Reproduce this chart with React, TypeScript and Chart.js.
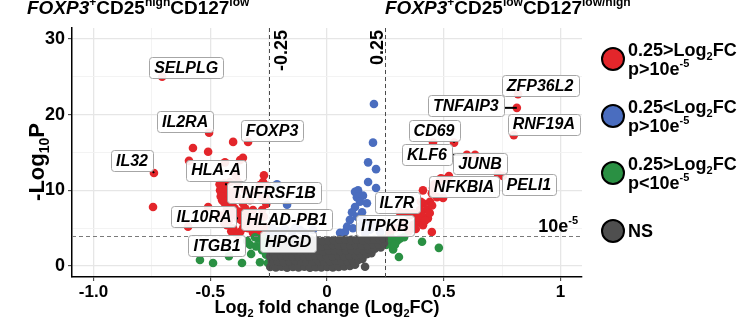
import { useEffect, useRef } from 'react';
import { Chart, registerables } from 'chart.js';

Chart.register(...registerables);

const FONT = '"Liberation Sans", Arial, Helvetica, sans-serif';

// Cut-offs used for colouring the genes
const fcCutoff = 0.25;
const pCutoff = 4; // -log10 of the p-value threshold

// Axis ticks
const xTickLabels: Record<string, string> = { '-1': '-1.0', '-0.5': '-0.5', '0': '0', '0.5': '0.5', '1': '1' };
const yTickLabels = [0, 10, 20, 30];

// Labelled genes: log2 fold change and -log10 P
const labelGenes = ['SELPLG', 'IL2RA', 'FOXP3', 'IL32', 'HLA-A', 'TNFRSF1B', 'IL10RA', 'HLAD-PB1', 'ITGB1', 'HPGD',
  'ZFP36L2', 'TNFAIP3', 'RNF19A', 'CD69', 'KLF6', 'JUNB', 'PELI1', 'NFKBIA', 'IL7R', 'ITPKB'];
const labelLog2FC = [-0.706, -0.505, -0.338, -0.741, -0.372, -0.437, -0.381, -0.36, -0.381, -0.265,
  0.818, 0.813, 0.8, 0.544, 0.599, 0.732, 0.753, 0.497, 0.402, 0.355];
const labelLogP = [25.0, 17.6, 16.4, 12.3, 14.0, 10.8, 6.3, 5.0, 4.1, 4.5,
  22.7, 20.9, 17.3, 16.3, 14.7, 12.2, 11.9, 9.0, 8.5, 6.7];

// Other genes passing both cut-offs
const redPoints: [number, number][] = [
  [-0.402, 16.4], [-0.745, 7.8], [-0.574, 15.6], [-0.509, 15.1], [-0.591, 13.9], [-0.437, 13.7], [-0.36, 14.3],
  [-0.449, 10.4], [-0.445, 9.6], [-0.274, 11.1], [-0.257, 10.6], [-0.287, 10.7], [-0.415, 11.1], [-0.381, 11.1],
  [-0.458, 10.0], [-0.437, 9.5], [-0.449, 8.7], [-0.415, 9.0], [-0.385, 9.1], [-0.36, 8.3], [-0.428, 7.4],
  [-0.402, 7.8], [-0.509, 7.8], [-0.595, 5.2], [-0.428, 5.4], [-0.402, 5.0], [-0.372, 4.5], [-0.338, 5.0],
  [-0.317, 4.4], [-0.274, 4.1], [-0.317, 7.4], [-0.3, 5.8], [-0.287, 4.8], [-0.257, 5.2], [-0.278, 7.4],
  [-0.3, 6.3], [-0.342, 6.7], [-0.33, 8.7], [-0.308, 9.8], [-0.265, 9.1], [-0.407, 6.7], [-0.458, 6.7],
  [-0.394, 10.0], [-0.351, 10.0],
  [-0.44, 10.9], [-0.43, 10.2], [-0.42, 9.6], [-0.455, 9.2], [-0.44, 8.4], [-0.43, 8.0], [-0.41, 8.4],
  [-0.395, 7.6], [-0.37, 7.2], [-0.35, 7.6], [-0.33, 6.1], [-0.315, 5.5], [-0.35, 5.6], [-0.365, 6.0],
  [-0.42, 6.0], [-0.44, 5.7], [-0.39, 4.4], [-0.41, 4.6], [-0.295, 4.4], [-0.27, 6.5], [-0.26, 8.2],
  [-0.28, 9.0], [-0.46, 10.8], [-0.39, 12.0], [-0.27, 12.0],
  [0.454, 16.3], [0.634, 14.7], [0.522, 11.9], [0.488, 11.6], [0.475, 11.0], [0.454, 10.3], [0.441, 8.5],
  [0.471, 9.1], [0.411, 8.3], [0.428, 7.5], [0.398, 7.4], [0.368, 7.0], [0.342, 7.0], [0.407, 6.7],
  [0.432, 6.3], [0.385, 5.8], [0.411, 5.4], [0.368, 5.4], [0.449, 4.5], [0.312, 7.1], [0.411, 10.0],
  [0.449, 9.6], [0.291, 5.0], [0.27, 4.4], [0.321, 5.8],
  [0.39, 6.4], [0.42, 6.0], [0.44, 7.0], [0.38, 4.9], [0.35, 4.6], [0.33, 5.3], [0.45, 8.0], [0.46, 10.8],
  [0.5, 11.5],
];

// Small fold change, significant P
const bluePoints: [number, number][] = [
  [0.201, 21.4], [0.197, 16.3], [0.176, 13.7], [0.21, 12.8], [0.176, 11.1], [0.21, 10.3], [0.133, 10.0],
  [0.12, 9.8], [0.128, 9.1], [0.154, 9.3], [0.141, 8.5], [0.171, 8.3], [0.12, 7.8], [0.107, 7.1], [0.15, 7.1],
  [0.128, 6.5], [0.098, 6.1], [0.154, 6.1], [0.086, 5.2], [0.111, 5.0], [0.141, 5.2], [0.184, 5.7], [0.077, 4.5],
  [0.184, 4.8], [0.056, 4.4], [0.163, 4.4], [0.214, 5.4], [0.227, 4.5],
  [-0.214, 10.8], [-0.171, 8.1], [-0.06, 4.8], [-0.235, 5.0], [-0.21, 4.6], [-0.18, 4.9], [-0.15, 4.5],
  [-0.116, 4.8], [-0.094, 4.4], [-0.244, 4.2], [-0.137, 5.0], [-0.193, 4.4],
];

// Large fold change, P above threshold
const greenPoints: [number, number][] = [
  [-0.544, 0.8], [-0.488, 0.4], [-0.42, 1.3], [-0.364, 0.4], [-0.33, 2.8], [-0.308, 3.8], [-0.295, 3.6],
  [-0.278, 2.1], [-0.287, 0.5], [-0.325, 1.6], [-0.265, 3.8], [-0.274, 2.9], [-0.253, 3.3], [-0.304, 2.6],
  [-0.261, 1.5], [-0.253, 0.4], [-0.342, 3.3],
  [0.407, 3.2], [0.479, 2.4], [0.283, 2.2], [0.308, 1.2], [0.257, 3.4], [0.278, 3.6], [0.3, 3.3],
  [0.27, 2.9], [0.312, 3.6], [0.291, 2.8], [0.255, 2.8], [0.33, 3.8],
];

// Not significant
const nsPoints: [number, number][] = [
  [-0.243, -0.12], [-0.219, -0.2], [-0.195, -0.1], [-0.171, -0.22], [-0.146, -0.12], [-0.122, -0.18], [-0.097, -0.1],
  [-0.073, -0.21], [-0.048, -0.14], [-0.024, -0.2], [0.001, -0.11], [0.025, -0.19], [0.05, -0.13], [0.074, -0.05],
  [0.098, 0.02], [0.12, 0.18], [0.163, -0.1],
  [-0.236, 0.58], [-0.211, 0.66], [-0.186, 0.55], [-0.161, 0.62], [-0.135, 0.7], [-0.11, 0.57], [-0.086, 0.64],
  [-0.061, 0.6], [-0.036, 0.68], [-0.012, 0.56], [0.013, 0.63], [0.037, 0.7], [0.062, 0.6], [0.087, 0.66],
  [0.111, 0.75], [0.134, 0.8], [0.152, 0.95],
  [-0.244, 1.3], [-0.22, 1.25], [-0.196, 1.36], [-0.172, 1.28], [-0.148, 1.22], [-0.123, 1.34], [-0.098, 1.3],
  [-0.074, 1.24], [-0.049, 1.35], [-0.025, 1.28], [0.0, 1.32], [0.025, 1.26], [0.049, 1.36], [0.073, 1.3],
  [0.098, 1.38], [0.122, 1.42], [0.146, 1.45], [0.17, 1.55], [0.19, 1.7],
  [-0.238, 2.0], [-0.213, 2.06], [-0.188, 1.95], [-0.163, 2.02], [-0.139, 2.08], [-0.114, 1.97], [-0.09, 2.04],
  [-0.065, 2.0], [-0.04, 2.07], [-0.016, 1.96], [0.009, 2.03], [0.033, 2.08], [0.058, 1.99], [0.082, 2.05],
  [0.107, 2.1], [0.131, 2.06], [0.156, 2.12], [0.18, 2.2], [0.205, 2.3], [0.23, 2.45],
  [-0.245, 2.72], [-0.221, 2.66], [-0.196, 2.75], [-0.171, 2.68], [-0.147, 2.74], [-0.122, 2.7], [-0.097, 2.64],
  [-0.073, 2.76], [-0.048, 2.7], [-0.023, 2.66], [0.002, 2.73], [0.026, 2.78], [0.051, 2.7], [0.075, 2.76],
  [0.1, 2.72], [0.124, 2.8], [0.149, 2.74], [0.173, 2.78], [0.198, 2.84], [0.222, 2.9], [0.244, 3.0],
  [-0.24, 3.38], [-0.216, 3.44], [-0.191, 3.35], [-0.166, 3.42], [-0.142, 3.36], [-0.117, 3.4], [-0.093, 3.33],
  [-0.068, 3.45], [-0.044, 3.38], [-0.019, 3.3], [0.006, 3.36], [0.03, 3.42], [0.055, 3.48], [0.079, 3.5],
  [0.104, 3.46], [0.128, 3.52], [0.153, 3.45], [0.177, 3.5], [0.202, 3.48], [0.226, 3.55], [0.243, 3.6],
];

// Colours
const RED = '#e3262b';
const BLUE = '#4a6dbf';
const GREEN = '#2a9043';
const GREY = '#4f4f4f';

// Label box placement relative to its gene's point (pixels)
const labelOffsets: Record<string, [number, number]> = {
  SELPLG: [24, -9], IL2RA: [-24, -11], FOXP3: [24, -11], IL32: [-22, -12], 'HLA-A': [-24, 10],
  TNFRSF1B: [49, 8], IL10RA: [-34, -2], 'HLAD-PB1': [44, -9], ITGB1: [-21, 11], HPGD: [23, 10],
  ZFP36L2: [22, -9], TNFAIP3: [-51, -2], RNF19A: [30, -11], CD69: [-20, -12], KLF6: [-40, 0],
  JUNB: [-18, -10], PELI1: [26, 9], NFKBIA: [21, -11], IL7R: [-24, 1], ITPKB: [-25, 10],
};

type Seg = { t: string; v?: 'sub' | 'sup'; i?: boolean };

const fontFor = (s: Seg, size: number) => `${s.i ? 'italic ' : ''}bold ${size}px ${FONT}`;

function drawRich(ctx: CanvasRenderingContext2D, segs: Seg[], x: number, y: number, size: number,
  align: 'left' | 'center' | 'right' = 'left') {
  const small = Math.round(size * 0.62);
  let w = 0;
  for (const s of segs) {
    ctx.font = fontFor(s, s.v ? small : size);
    w += ctx.measureText(s.t).width;
  }
  let cx = align === 'center' ? x - w / 2 : align === 'right' ? x - w : x;
  ctx.textAlign = 'left';
  ctx.textBaseline = 'alphabetic';
  for (const s of segs) {
    const sz = s.v ? small : size;
    ctx.font = fontFor(s, sz);
    const dy = s.v === 'sup' ? -size * 0.42 : s.v === 'sub' ? size * 0.24 : 0;
    ctx.fillText(s.t, cx, y + dy);
    cx += ctx.measureText(s.t).width;
  }
}

const legendItems: { color: string; lines: Seg[][] }[] = [
  { color: RED, lines: [[{ t: '0.25>Log' }, { t: '2', v: 'sub' }, { t: 'FC' }], [{ t: 'p>10e' }, { t: '-5', v: 'sup' }]] },
  { color: BLUE, lines: [[{ t: '0.25<Log' }, { t: '2', v: 'sub' }, { t: 'FC' }], [{ t: 'p>10e' }, { t: '-5', v: 'sup' }]] },
  { color: GREEN, lines: [[{ t: '0.25>Log' }, { t: '2', v: 'sub' }, { t: 'FC' }], [{ t: 'p<10e' }, { t: '-5', v: 'sup' }]] },
  { color: GREY, lines: [[{ t: 'NS' }]] },
];

const volcanoOverlay = {
  id: 'volcanoOverlay',
  afterDatasetsDraw(chart: Chart) {
    const { ctx, chartArea: a } = chart;
    const xs = chart.scales.x;
    const ys = chart.scales.y;
    ctx.save();

    // cut-off lines
    ctx.strokeStyle = '#4a4a4a';
    ctx.lineWidth = 1;
    ctx.setLineDash([4, 3]);
    for (const v of [-fcCutoff, fcCutoff]) {
      const px = Math.round(xs.getPixelForValue(v)) + 0.5;
      ctx.beginPath();
      ctx.moveTo(px, a.top);
      ctx.lineTo(px, a.bottom);
      ctx.stroke();
    }
    const py = Math.round(ys.getPixelForValue(pCutoff)) + 0.5;
    ctx.strokeStyle = '#7a7a7a';
    ctx.beginPath();
    ctx.moveTo(a.left, py);
    ctx.lineTo(a.right, py);
    ctx.stroke();
    ctx.setLineDash([]);

    // cut-off captions
    ctx.fillStyle = '#000';
    const vCaption = (text: string, bx: number) => {
      ctx.save();
      ctx.translate(bx, a.top + 2);
      ctx.rotate(-Math.PI / 2);
      ctx.font = `bold 18px ${FONT}`;
      ctx.textAlign = 'right';
      ctx.textBaseline = 'alphabetic';
      ctx.fillText(text, 0, 0);
      ctx.restore();
    };
    vCaption(String(-fcCutoff), xs.getPixelForValue(-fcCutoff) + 18);
    vCaption(String(fcCutoff), xs.getPixelForValue(fcCutoff) - 2);
    drawRich(ctx, [{ t: '10e' }, { t: '-5', v: 'sup' }], a.right - 4, py - 5, 18, 'right');

    // gene labels
    labelGenes.forEach((gene, i) => {
      const px = xs.getPixelForValue(labelLog2FC[i]);
      const pyy = ys.getPixelForValue(labelLogP[i]);
      const [dx, dy] = labelOffsets[gene];
      ctx.font = `italic bold 16px ${FONT}`;
      const w = ctx.measureText(gene).width + 10;
      const h = 21;
      const cx = px + dx;
      const cy = pyy + dy;
      const l = cx - w / 2, t = cy - h / 2;
      const ex = Math.min(Math.max(px, l), l + w);
      const ey = Math.min(Math.max(pyy, t), t + h);
      ctx.strokeStyle = '#000';
      ctx.lineWidth = 2;
      ctx.beginPath();
      ctx.moveTo(px, pyy);
      ctx.lineTo(ex, ey);
      ctx.stroke();
      ctx.fillStyle = 'rgba(255,255,255,0.92)';
      ctx.strokeStyle = '#a6a6a6';
      ctx.lineWidth = 1;
      ctx.beginPath();
      ctx.roundRect(Math.round(l) + 0.5, Math.round(t) + 0.5, Math.round(w), h, 3);
      ctx.fill();
      ctx.stroke();
      ctx.fillStyle = '#000';
      ctx.textAlign = 'center';
      ctx.textBaseline = 'middle';
      ctx.fillText(gene, cx, cy + 1);
    });
    ctx.restore();
  },
  afterDraw(chart: Chart) {
    const { ctx, chartArea: a } = chart;
    ctx.save();
    ctx.fillStyle = '#000';

    // group titles
    drawRich(ctx, [{ t: 'FOXP3', i: true }, { t: '+', v: 'sup' }, { t: 'CD25' }, { t: 'high', v: 'sup' },
      { t: 'CD127' }, { t: 'low', v: 'sup' }], 27, 14, 19);
    drawRich(ctx, [{ t: 'FOXP3', i: true }, { t: '+', v: 'sup' }, { t: 'CD25' }, { t: 'low', v: 'sup' },
      { t: 'CD127' }, { t: 'low/high', v: 'sup' }], 385, 14, 19);

    // axis titles
    drawRich(ctx, [{ t: 'Log' }, { t: '2', v: 'sub' }, { t: ' fold change (Log' }, { t: '2', v: 'sub' }, { t: 'FC)' }],
      (a.left + a.right) / 2, 313, 18, 'center');
    ctx.save();
    ctx.translate(44, 162);
    ctx.rotate(-Math.PI / 2);
    drawRich(ctx, [{ t: '-Log' }, { t: '10', v: 'sub' }, { t: 'P' }], 0, 0, 22, 'center');
    ctx.restore();

    // legend
    const cys = [59, 116, 173, 231];
    legendItems.forEach((item, i) => {
      const cy = cys[i];
      ctx.beginPath();
      ctx.arc(613, cy, 11, 0, Math.PI * 2);
      ctx.fillStyle = item.color;
      ctx.fill();
      ctx.lineWidth = 2;
      ctx.strokeStyle = '#000';
      ctx.stroke();
      ctx.fillStyle = '#000';
      if (item.lines.length === 2) {
        drawRich(ctx, item.lines[0], 628, cy - 3, 18);
        drawRich(ctx, item.lines[1], 628, cy + 16, 18);
      } else {
        drawRich(ctx, item.lines[0], 628, cy + 6, 18);
      }
    });
    ctx.restore();
  },
};

const toXY = (pts: [number, number][]) => pts.map(([x, y]) => ({ x, y }));

export default function App() {
  const canvasRef = useRef<HTMLCanvasElement | null>(null);

  useEffect(() => {
    document.body.style.margin = '0';
    const canvas = canvasRef.current;
    if (!canvas) return;

    const labelled = labelGenes.map((_, i) => [labelLog2FC[i], labelLogP[i]] as [number, number]);
    const isMajorX = (v: number) => Math.abs(v * 2 - Math.round(v * 2)) < 1e-6;
    const isMajorY = (v: number) => yTickLabels.includes(Math.round(v)) && Math.abs(v - Math.round(v)) < 1e-6;

    const chart = new Chart(canvas, {
      type: 'scatter',
      data: {
        datasets: [
          { label: 'NS', data: toXY(nsPoints), backgroundColor: GREY },
          { label: 'blue', data: toXY(bluePoints), backgroundColor: BLUE },
          { label: 'green', data: toXY(greenPoints), backgroundColor: GREEN },
          { label: 'red', data: toXY([...redPoints, ...labelled]), backgroundColor: RED },
        ],
      },
      options: {
        animation: false,
        responsive: false,
        devicePixelRatio: 1,
        events: [],
        elements: { point: { radius: 4.3, borderWidth: 0, hoverRadius: 4.3 } },
        layout: { padding: { left: 0, right: 170, top: 28, bottom: 0 } },
        plugins: { legend: { display: false }, tooltip: { enabled: false }, title: { display: false } },
        scales: {
          x: {
            type: 'linear',
            min: -1.092,
            max: 1.092,
            afterFit: (s: any) => { s.height = 50; },
            border: { display: true, color: '#000', width: 1.5 },
            grid: {
              color: (c: any) => (c.tick && isMajorX(c.tick.value) ? '#e6e6e6' : '#f2f2f2'),
              lineWidth: (c: any) => (c.tick && isMajorX(c.tick.value) ? 1.3 : 0.9),
              drawTicks: true,
              tickLength: 4,
              tickColor: (c: any) => (c.tick && isMajorX(c.tick.value) ? '#333' : 'rgba(0,0,0,0)'),
              tickWidth: 1,
            },
            ticks: {
              stepSize: 0.25,
              includeBounds: false,
              autoSkip: false,
              maxRotation: 0,
              padding: 1,
              color: '#000',
              font: { family: FONT, size: 17, weight: 'bold' },
              callback: (v: any) => xTickLabels[String(Math.round(Number(v) * 100) / 100)] ?? '',
            },
          },
          y: {
            type: 'linear',
            min: -1.45,
            max: 31.45,
            afterFit: (s: any) => { s.width = 72; },
            border: { display: true, color: '#000', width: 1.5 },
            grid: {
              color: (c: any) => (c.tick && isMajorY(c.tick.value) ? '#e6e6e6' : '#f2f2f2'),
              lineWidth: (c: any) => (c.tick && isMajorY(c.tick.value) ? 1.3 : 0.9),
              drawTicks: true,
              tickLength: 4,
              tickColor: (c: any) => (c.tick && isMajorY(c.tick.value) ? '#333' : 'rgba(0,0,0,0)'),
              tickWidth: 1,
            },
            ticks: {
              stepSize: 5,
              includeBounds: false,
              autoSkip: false,
              padding: 3,
              color: '#000',
              font: { family: FONT, size: 18, weight: 'bold' },
              callback: (v: any) => (yTickLabels.includes(Number(v)) ? String(v) : ''),
            },
          },
        },
      },
      plugins: [volcanoOverlay as any],
    });

    return () => chart.destroy();
  }, []);

  return (
    <div style={{ width: 752, height: 327, background: '#fff' }}>
      <canvas ref={canvasRef} width={752} height={327} style={{ display: 'block' }} />
    </div>
  );
}
